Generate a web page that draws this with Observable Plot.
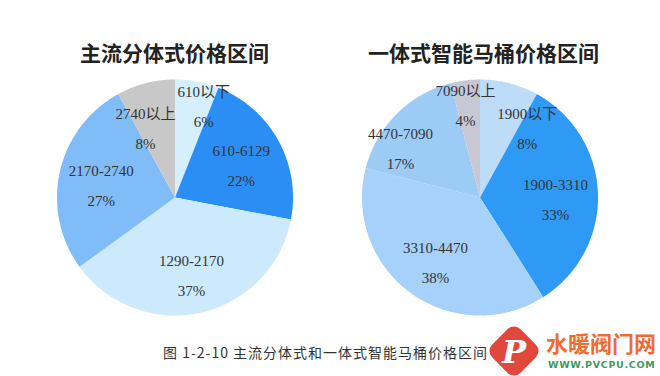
<!DOCTYPE html>
<html><head><meta charset="utf-8">
<script src="https://cdn.jsdelivr.net/npm/d3@7"></script>
<script src="https://cdn.jsdelivr.net/npm/@observablehq/plot@0.6"></script>
<style>
body{margin:0;background:#fff;}
#wrap{position:relative;width:660px;height:376px;background:#fff;overflow:hidden;}
#charts{position:absolute;left:22px;top:0;display:flex;}
.col{width:305px;}
.title{padding-top:40px;height:24px;line-height:24px;text-align:center;font-family:"Noto Sans CJK SC",sans-serif;font-weight:700;font-size:21px;color:#222;}
.plotbox{margin-top:8px;}
#caption{position:absolute;left:163px;top:344px;font-family:"Noto Sans CJK SC",sans-serif;font-size:14px;line-height:17px;color:#333;letter-spacing:1px;}
#logo{position:absolute;left:494px;top:331px;width:40px;height:40px;background:#e0483c;border-radius:9px;transform:rotate(45deg);}
#logoP{position:absolute;left:499px;top:332px;width:30px;text-align:center;font-family:"DejaVu Serif",serif;font-style:italic;font-weight:700;font-size:32px;color:#fff;line-height:40px;}
#wm1{position:absolute;left:546px;top:329px;font-family:"Noto Sans CJK SC",sans-serif;font-weight:700;font-size:22px;letter-spacing:0px;color:#ee6c34;line-height:26px;}
#wm2{position:absolute;left:548px;top:359px;font-family:"DejaVu Sans",sans-serif;font-weight:700;font-size:9.5px;letter-spacing:0.7px;color:#3d9a5c;line-height:12px;}
</style></head>
<body>
<div id="wrap">
  <div id="charts">
    <div class="col"><div class="title" id="t1"></div><div class="plotbox" id="p1"></div></div>
    <div class="col"><div class="title" id="t2" style="padding-left:8px"></div><div class="plotbox" id="p2"></div></div>
  </div>
  <div id="caption"></div>
  <div id="logo"></div><div id="logoP">P</div>
  <div id="wm1">水暖阀门网</div>
  <div id="wm2">WWW.PVCPU.COM</div>
</div>
<script>
// ---- data ----
const titleLeft = "主流分体式价格区间";
const titleRight = "一体式智能马桶价格区间";
const caption = "图 1-2-10 主流分体式和一体式智能马桶价格区间";

const leftCategories = ["610以下", "610-6129", "1290-2170", "2170-2740", "2740以上"];
const leftValues = [6, 22, 37, 27, 8];
const leftColors = ["#d6effd", "#2b8ef4", "#cdeafd", "#80bcf7", "#c8c8c8"];

const rightCategories = ["1900以下", "1900-3310", "3310-4470", "4470-7090", "7090以上"];
const rightValues = [8, 33, 38, 17, 4];
const rightColors = ["#bcdcf8", "#2e9af5", "#a5d1fa", "#9ccbf6", "#c8c8d4"];

document.getElementById("t1").textContent = titleLeft;
document.getElementById("t2").textContent = titleRight;
document.getElementById("caption").textContent = caption;

const FS = 15, LH = 2.0;
function textWidth(s) {
  let w = 0;
  for (const ch of s) w += /[\u3000-\u9fff]/.test(ch) ? FS : (ch === "-" ? FS * 0.4 : FS * 0.5);
  return w;
}

function pieChart(cats, vals, colors) {
  const W = 305, H = 250, R = 118;
  const data = cats.map((c, i) => ({cat: c, value: vals[i], color: colors[i]}));
  const arcs = d3.pie().sort(null).value(d => d.value)(data);
  const polys = [];
  const labels = [];
  arcs.forEach(a => {
    const n = Math.max(4, Math.ceil((a.endAngle - a.startAngle) / 0.01));
    polys.push({cat: a.data.cat, color: a.data.color, x: 0, y: 0});
    for (let k = 0; k <= n; k++) {
      const t = a.startAngle + (a.endAngle - a.startAngle) * k / n;
      polys.push({cat: a.data.cat, color: a.data.color, x: Math.sin(t), y: Math.cos(t)});
    }
    const mid = (a.startAngle + a.endAngle) / 2;
    const f = a.data.value <= 6 ? 0.82 : 0.64;
    labels.push({px: f * Math.sin(mid) * R, py: f * Math.cos(mid) * R,
      w: Math.max(textWidth(a.data.cat), textWidth(a.data.value + "%")),
      text: a.data.cat + "\n" + a.data.value + "%"});
  });
  // push overlapping labels apart horizontally
  const hBox = FS * LH + FS;
  for (let iter = 0; iter < 5; iter++) {
    for (let i = 0; i < labels.length; i++) {
      for (let j = i + 1; j < labels.length; j++) {
        const A = labels[i], B = labels[j];
        if (Math.abs(A.py - B.py) >= hBox) continue;
        const need = (A.w + B.w) / 2 + 2;
        const dx = B.px - A.px;
        if (Math.abs(dx) < need) {
          const s = dx >= 0 ? 1 : -1, m = (need - Math.abs(dx)) / 2;
          A.px -= s * m; B.px += s * m;
        }
      }
    }
  }
  labels.forEach(l => { l.x = l.px / R; l.y = l.py / R; });
  const hx = W / 2 / R, hy = H / 2 / R;
  return Plot.plot({
    width: W, height: H,
    margin: 0,
    x: {domain: [-hx, hx], axis: null},
    y: {domain: [-hy, hy], axis: null},
    color: {type: "identity"},
    marks: [
      Plot.line(polys, {x: "x", y: "y", z: "cat", fill: "color", stroke: "none", curve: "linear-closed"}),
      Plot.text(labels, {x: "x", y: "y", text: "text", lineHeight: LH, fontSize: FS,
        fontFamily: "'Liberation Serif', 'Noto Sans CJK SC', serif", fill: "#333"})
    ]
  });
}

document.getElementById("p1").append(pieChart(leftCategories, leftValues, leftColors));
document.getElementById("p2").append(pieChart(rightCategories, rightValues, rightColors));
</script>
</body></html>
